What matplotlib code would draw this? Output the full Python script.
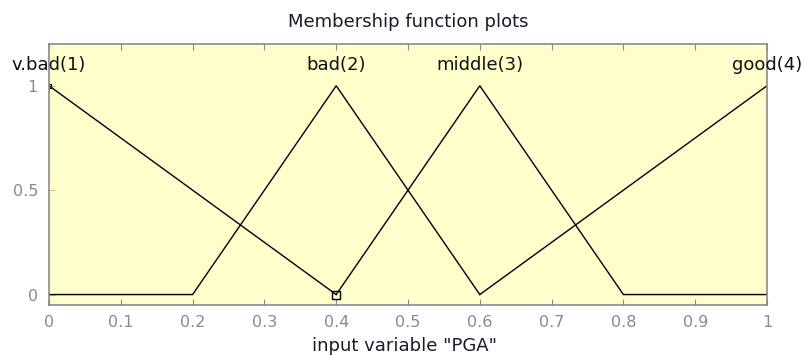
import matplotlib
matplotlib.use("Agg")
import matplotlib.pyplot as plt

plt.rcParams['font.family'] = ['DejaVu Sans']

# Membership functions (visible segments)
vbad_x = [0.0, 0.4]
vbad_y = [1.0, 0.0]
bad_x = [0.0, 0.2, 0.4, 0.6]
bad_y = [0.0, 0.0, 1.0, 0.0]
middle_x = [0.4, 0.6, 0.8, 1.0]
middle_y = [0.0, 1.0, 0.0, 0.0]
good_x = [0.6, 1.0]
good_y = [0.0, 1.0]

mf_names = ["v.bad(1)", "bad(2)", "middle(3)", "good(4)"]
mf_peaks = [0.0, 0.4, 0.6, 1.0]

xticks = [0, 0.1, 0.2, 0.3, 0.4, 0.5, 0.6, 0.7, 0.8, 0.9, 1]
xtick_labels = ["0", "0.1", "0.2", "0.3", "0.4", "0.5", "0.6", "0.7", "0.8", "0.9", "1"]
yticks = [0, 0.5, 1]
ytick_labels = ["0", "0.5", "1"]

fig = plt.figure(figsize=(8.03, 3.56), dpi=100)
ax = fig.add_axes([49/803, 1-305/356, (767-49)/803, (305-44)/356])
ax.set_facecolor('#ffffcc')

for xs, ys in [(vbad_x, vbad_y), (bad_x, bad_y), (middle_x, middle_y), (good_x, good_y)]:
    ax.plot(xs, ys, color='black', lw=1.0, solid_joinstyle='miter')

# small selection markers as in the MATLAB tool
ax.plot([0.4], [0.0], marker='s', ms=6, mfc='none', mec='black', mew=1.0)
ax.plot([0.0], [1.0], marker='s', ms=3, mfc='none', mec='black', mew=0.8)

for name, px in zip(mf_names, mf_peaks):
    ax.text(px, 1.10, name, ha='center', va='center', fontsize=13, color='#111111')

ax.set_xlim(0, 1)
ax.set_ylim(-0.05, 1.2)
ax.set_xticks(xticks)
ax.set_xticklabels(xtick_labels)
ax.set_yticks(yticks)
ax.set_yticklabels(ytick_labels)
ax.tick_params(axis='x', direction='in', length=4, color='#8a8a8a', labelcolor='#8a8a8a',
               labelsize=11.5, top=True, pad=7)
ax.tick_params(axis='y', direction='in', length=4, color='#c8c48a', labelcolor='#8a8a8a',
               labelsize=11.5, pad=8)
for s in ax.spines.values():
    s.set_color('#8a8a8a')
    s.set_linewidth(1.2)

fig.text(408/803, 1-22/356, "Membership function plots", ha='center', va='center',
         fontsize=13, color='#1a1a2a')
fig.text(405/803, 1-346/356, 'input variable "PGA"', ha='center', va='center',
         fontsize=13, color='#1a1a2a')

fig.savefig("out.png", dpi=100, facecolor='white')
